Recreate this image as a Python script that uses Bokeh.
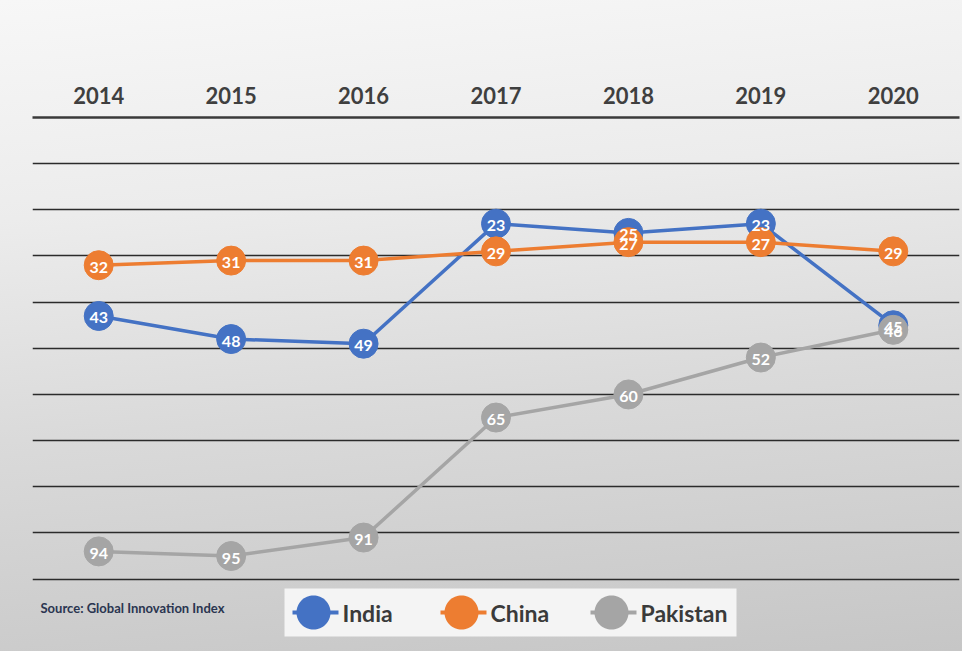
import math
from bokeh.plotting import figure
from bokeh.models import FixedTicker, PolyAnnotation, Label, FactorRange, Range1d, ColumnDataSource
from bokeh.core.properties import value
from bokeh.embed import file_html
from bokeh.resources import INLINE

# ---- data (ranks, Global Innovation Index) ----
years = ["2014", "2015", "2016", "2017", "2018", "2019", "2020"]
india = [43, 48, 49, 23, 25, 23, 45]
china = [32, 31, 31, 29, 27, 27, 29]
pakistan = [94, 95, 91, 65, 60, 52, 46]
series_names = ["India", "China", "Pakistan"]
series_values = [india, china, pakistan]
series_colors = ["#4472C4", "#ED7D31", "#A5A5A5"]
grid_ticks = [10, 20, 30, 40, 50, 60, 70, 80, 90, 100]
source_note = "Source: Global Innovation Index"

FONT = "Lato"
W, H = 962, 651
TOP, LEFT = 117, 32
PX_PER_RANK = 4.616          # 100 ranks span the gridded area
FRAME_H = H - TOP             # frame runs to the bottom so the legend area is inside it

p = figure(
    width=W, height=H,
    x_range=FactorRange(*years), y_range=Range1d(FRAME_H / PX_PER_RANK, 0),
    x_axis_location="above",
    output_backend="svg", toolbar_location=None,
    min_border_left=LEFT, min_border_right=3,
    min_border_top=TOP, min_border_bottom=0,
)
p.styles = {"background": "linear-gradient(175deg, #f7f7f7 0%, #ececec 30%, #dadada 60%, #c6c6c6 100%)"}
p.background_fill_alpha = 0
p.border_fill_alpha = 0
p.outline_line_color = None

p.xgrid.visible = False
p.yaxis.visible = False
p.ygrid.ticker = FixedTicker(ticks=grid_ticks)
p.ygrid.grid_line_color = "#2b2b2b"
p.ygrid.grid_line_width = 1.3

ax = p.xaxis[0]
ax.axis_line_color = "#3a3a3a"
ax.axis_line_width = 2.6
ax.major_tick_line_color = None
ax.minor_tick_line_color = None
ax.major_label_standoff = 8
ax.major_label_text_font = FONT
ax.major_label_text_font_style = "bold"
ax.major_label_text_font_size = "22px"
ax.major_label_text_color = "#3f3f3f"

sources = []
for name, vals, col in zip(series_names, series_values, series_colors):
    src = ColumnDataSource(dict(x=years, y=vals, lab=[str(v) for v in vals]))
    sources.append(src)
    p.line("x", "y", source=src, line_color=col, line_width=3.5)
    p.scatter("x", "y", source=src, size=29, fill_color=col, line_color=col)

for src in sources:
    p.text("x", "y", text="lab", source=src, text_color="white",
           text_font=value(FONT), text_font_size="16px", text_font_style="bold",
           text_align="center", text_baseline="middle", y_offset=2)

# ---- legend (canvas pixel units, y downward) ----
def cpoly(xs, ys, col):
    return PolyAnnotation(xs=xs, ys=ys, xs_units="canvas", ys_units="canvas",
                          fill_color=col, fill_alpha=1, line_color=None, editable=False)

def rect(l, r, t, b, col):
    return cpoly([l, r, r, l], [t, t, b, b], col)

legend_x = [292, 440, 590]   # left of each legend glyph (canvas px)
LEG_CY = 612
p.add_layout(rect(284, 736, 588, 636, "#f4f4f4"))
for name, col, lx in zip(series_names, series_colors, legend_x):
    p.add_layout(rect(lx, lx + 46, LEG_CY - 2, LEG_CY + 2, col))
    cx = lx + 21
    ang = [2 * math.pi * k / 64 for k in range(64)]
    p.add_layout(cpoly([cx + 17 * math.cos(a) for a in ang],
                       [LEG_CY + 17 * math.sin(a) for a in ang], col))
    p.add_layout(Label(x=lx + 50, y=LEG_CY, x_units="canvas", y_units="canvas",
                       text=name, text_font=FONT, text_font_style="bold",
                       text_font_size="23px", text_color="#3a3a3a",
                       text_baseline="middle", text_align="left"))

p.add_layout(Label(x=40, y=607, x_units="canvas", y_units="canvas",
                   text=source_note, text_font=FONT, text_font_size="13px",
                   text_font_style="bold", text_color="#2a3550",
                   text_baseline="middle", text_align="left"))

open("out.html", "w").write(file_html(p, INLINE))
